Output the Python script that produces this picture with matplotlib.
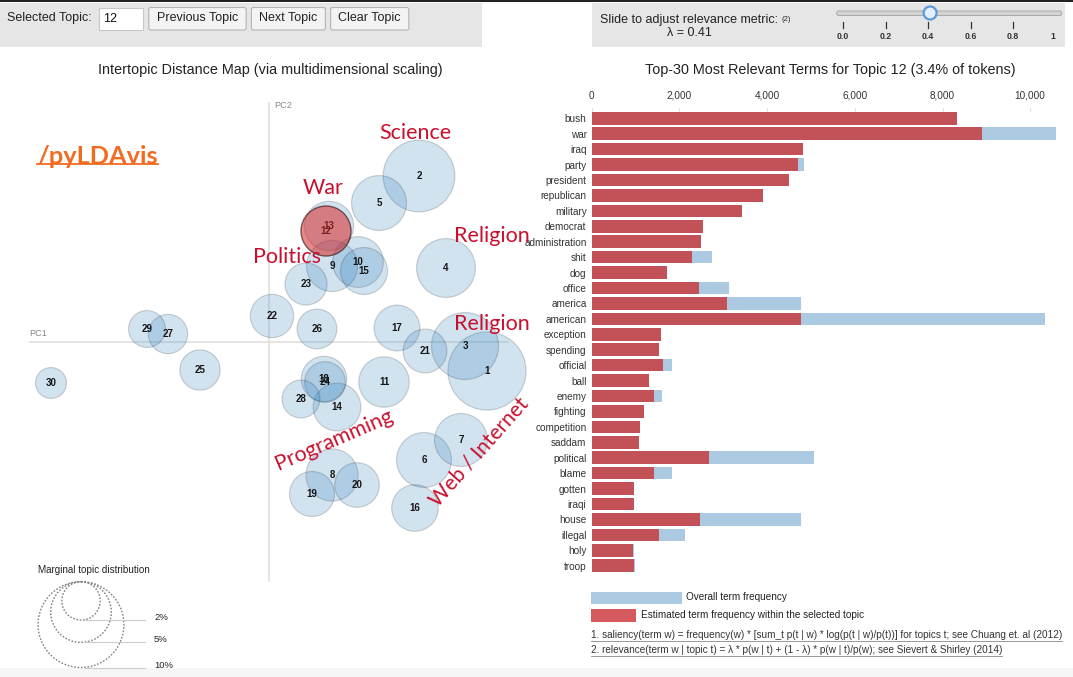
import matplotlib
matplotlib.use('Agg')
import matplotlib.pyplot as plt
from matplotlib.patches import Circle, Rectangle, FancyBboxPatch
import numpy as np

# ---------------- data ----------------
topic_ids = list(range(1, 31))
topic_pct = [8.3, 7.0, 6.1, 4.7, 4.1, 4.1, 3.8, 3.7, 3.55, 3.5,
             3.45, 3.4, 3.3, 3.1, 3.0, 2.95, 2.85, 2.8, 2.75, 2.7,
             2.6, 2.55, 2.4, 2.25, 2.2, 2.15, 2.1, 1.95, 1.85, 1.3]
pc1 = [0.218, 0.150, 0.196, 0.177, 0.110, 0.155, 0.192, 0.063, 0.063, 0.089,
       0.115, 0.057, 0.060, 0.068, 0.095, 0.146, 0.128, 0.055, 0.043, 0.088,
       0.156, 0.003, 0.037, 0.056, -0.069, 0.048, -0.101, 0.032, -0.122, -0.218]
pc2 = [-0.029, 0.166, -0.004, 0.074, 0.139, -0.118, -0.098, -0.133, 0.076, 0.080,
       -0.040, 0.111, 0.116, -0.065, 0.071, -0.166, 0.014, -0.037, -0.152, -0.143,
       -0.009, 0.026, 0.058, -0.040, -0.028, 0.013, 0.008, -0.057, 0.013, -0.041]
selected_topic = 12

terms = ['bush', 'war', 'iraq', 'party', 'president', 'republican', 'military',
         'democrat', 'administration', 'shit', 'dog', 'office', 'america',
         'american', 'exception', 'spending', 'official', 'ball', 'enemy',
         'fighting', 'competition', 'saddam', 'political', 'blame', 'gotten',
         'iraqi', 'house', 'illegal', 'holy', 'troop']
topic_freq = [8330, 8910, 4830, 4710, 4510, 3910, 3430, 2540, 2500, 2290,
              1720, 2440, 3080, 4780, 1570, 1530, 1630, 1300, 1430, 1190,
              1110, 1070, 2670, 1430, 960, 960, 2470, 1530, 935, 975]
overall_freq = [8330, 10590, 4830, 4840, 4510, 3910, 3430, 2540, 2500, 2750,
                1720, 3120, 4780, 10330, 1570, 1530, 1840, 1300, 1600, 1190,
                1110, 1070, 5080, 1830, 960, 960, 4770, 2130, 960, 990]
bar_ticks = [0, 2000, 4000, 6000, 8000, 10000]

lambda_value = 0.41
slider_ticks = [0.0, 0.2, 0.4, 0.6, 0.8]
slider_labels = ['0.0', '0.2', '0.4', '0.6', '0.8', '1']
slider_label_vals = [0.0, 0.2, 0.4, 0.6, 0.8, 1.0]
legend_pcts = [2, 5, 10]

annotations = ['Science', 'War', 'Politics', 'Religion', 'Religion', 'Programming', 'Web / Internet']

# ---------------- layout ----------------
W, H = 1073, 677
plt.rcParams['font.family'] = ['Liberation Sans', 'DejaVu Sans']
fig = plt.figure(figsize=(W / 100, H / 100), dpi=100)
fig.patch.set_facecolor('white')

def rect(x0, y0, x1, y1):
    return [x0 / W, 1 - y1 / H, (x1 - x0) / W, (y1 - y0) / H]

PX = 1000.0          # pixels per PC unit
OX, OY = 269, 342    # pixel position of the PC origin
RS = 13.57           # bubble radius px per sqrt(percent)

# ---- map axes ----
mx0, my0, mx1, my1 = 0, 85, 590, 590
axm = fig.add_axes(rect(mx0, my0, mx1, my1))
axm.set_xlim((mx0 - OX) / PX, (mx1 - OX) / PX)
axm.set_ylim((OY - my1) / PX, (OY - my0) / PX)
axm.axis('off')
axm.patch.set_alpha(0)
axm.plot([-0.24, 0.24], [0, 0], color='#e3e3e3', lw=1.3, zorder=0, solid_capstyle='butt')
axm.plot([0, 0], [0.24, -0.24], color='#e3e3e3', lw=1.3, zorder=0, solid_capstyle='butt')
axm.text(-0.24, 0.0045, 'PC1', fontsize=6.6, color='#888888', ha='left', va='bottom')
axm.text(0.005, 0.237, 'PC2', fontsize=6.6, color='#888888', ha='left', va='center')

for t, p, x, y in zip(topic_ids, topic_pct, pc1, pc2):
    r = RS * np.sqrt(p) / PX
    if t == selected_topic:
        axm.add_patch(Circle((x, y), r, fc=(214/255, 39/255, 40/255, 0.55),
                             ec=(0.15, 0.05, 0.05, 0.6), lw=1.0, zorder=5))
    else:
        axm.add_patch(Circle((x, y), r, fc=(31/255, 119/255, 180/255, 0.2),
                             ec=(0, 0, 0, 0.16), lw=0.9, zorder=2))
    axm.text(x, y, str(t), fontsize=7.0, fontweight='bold', color='#151515',
             ha='center', va='center', zorder=4)

# ---- bar axes ----
bx0, bx1 = 591.7, 591.7 + 10800 * 0.04385
by0, by1 = 110.6, 573.4
axb = fig.add_axes(rect(bx0, by0, bx1, by1))
axb.patch.set_alpha(0)
ypos = np.arange(len(terms))
axb.barh(ypos, overall_freq, height=0.82, color='#abc9e0', zorder=2)
axb.barh(ypos, topic_freq, height=0.82, color='#c25258', zorder=3)
axb.set_xlim(0, 10800)
axb.set_ylim(len(terms) - 0.5, -0.5)
for s in axb.spines.values():
    s.set_visible(False)
axb.xaxis.set_ticks_position('top')
axb.set_xticks(bar_ticks)
axb.set_xticklabels([f'{v:,}' for v in bar_ticks])
axb.tick_params(axis='x', length=2.5, color='#d8d8d8', pad=4.5, labelsize=7.2, labelcolor='#333333')
axb.set_yticks(ypos)
axb.set_yticklabels(terms)
axb.tick_params(axis='y', length=0, pad=3.7, labelsize=7.2, labelcolor='#333333')

# ---- overlay (pixel coords, y down) ----
ov = fig.add_axes([0, 0, 1, 1], zorder=10)
ov.set_xlim(0, W)
ov.set_ylim(H, 0)
ov.axis('off')
ov.patch.set_alpha(0)

ov.add_patch(Rectangle((0, 0), W, 2, fc='#222222', ec='none'))
ov.add_patch(Rectangle((0, 3), 482, 44, fc='#e6e6e6', ec='none'))
ov.add_patch(Rectangle((592, 3), 473, 44, fc='#e6e6e6', ec='none'))
ov.add_patch(Rectangle((0, 668), W, 9, fc='#f6f6f6', ec='none'))

ov.text(7, 18.5, 'Selected Topic:', fontsize=9, color='#222222', ha='left', va='center')
ov.add_patch(Rectangle((99, 7.5), 44, 22.5, fc='white', ec='#c8c8c8', lw=0.8))
ov.text(103, 18.5, str(selected_topic), fontsize=9, color='#111111', ha='left', va='center')
for (x0, x1, lab) in [(148.8, 246.2, 'Previous Topic'), (251.4, 325.4, 'Next Topic'),
                      (330.6, 408.8, 'Clear Topic')]:
    ov.add_patch(FancyBboxPatch((x0, 7.5), x1 - x0, 22.5, boxstyle='round,pad=0,rounding_size=2',
                                fc='#f3f3f3', ec='#b4b4b4', lw=0.8))
    ov.text((x0 + x1) / 2, 18.5, lab, fontsize=9, color='#222222', ha='center', va='center')

ov.text(600, 20.5, 'Slide to adjust relevance metric:', fontsize=9, color='#222222',
        ha='left', va='center')
ov.text(781, 19.5, '(2)', fontsize=5.5, color='#222222', ha='left', va='center')
ov.text(689, 33, f'λ = {lambda_value}', fontsize=9, color='#222222', ha='center', va='center')

def sx(v):
    return 843 + v * 212.5
ov.add_patch(FancyBboxPatch((836.7, 11), 225, 4.5, boxstyle='round,pad=0,rounding_size=2',
                            fc='#d4d4d4', ec='#a8a8a8', lw=0.7))
for v in slider_ticks:
    ov.plot([sx(v), sx(v)], [21.5, 28], color='#333333', lw=0.9)
for v, lab in zip(slider_label_vals, slider_labels):
    ov.text(sx(v) - (3 if lab == '1' else 0), 36.5, lab, fontsize=6.3, fontweight='bold',
            color='#333333', ha='center', va='center')
ov.add_patch(Circle((sx(lambda_value), 13), 6.5, fc='#e3eefa', ec='#5c9ad6', lw=1.6))

ov.text(270.8, 70, 'Intertopic Distance Map (via multidimensional scaling)', fontsize=10.4,
        color='#222222', ha='center', va='center')
ov.text(830.8, 70, 'Top-30 Most Relevant Terms for Topic 12 (3.4% of tokens)', fontsize=10.4,
        color='#222222', ha='center', va='center')

# annotations
RED = '#c8102e'
ann_font = ['Lato', 'DejaVu Sans']
ann_pos = [(415, 133, 0), (323.5, 188, 0), (287, 257, 0), (491.5, 236.5, 0),
           (491.5, 324, 0), (334, 440, 23.3), (479, 452, 48.4)]
ann_size = [15.5, 15.5, 15.5, 15.5, 15.5, 15.5, 15.0]
for lab, (x, y, rot), fs in zip(annotations, ann_pos, ann_size):
    ov.text(x, y, lab, fontsize=fs, color=RED, family=ann_font, ha='center', va='center',
            rotation=rot, rotation_mode='anchor')

logo = ov.text(37, 156, '/pyLDAvis', fontsize=18.3, fontweight='bold', color='#f26b21',
               family=ann_font, ha='left', va='center')

# marginal topic distribution legend
ov.text(38, 570, 'Marginal topic distribution', fontsize=7.1, color='#222222', ha='left', va='center')
top_y, cx = 581.7, 81
for p in legend_pcts:
    r = RS * np.sqrt(p)
    ov.add_patch(Circle((cx, top_y + r), r, fc='none', ec='#808080', lw=1.0, ls=(0, (1.2, 1.2))))
    yb = top_y + 2 * r
    ov.plot([cx + 4, 145], [yb, yb], color='#cccccc', lw=0.8)
    ov.text(154, yb - 2.5, f'{p}%', fontsize=6.8, color='#222222', ha='left', va='center')

# bar legend
ov.add_patch(Rectangle((591, 591.7), 90.7, 12.3, fc='#abc9e0', ec='none'))
ov.text(686, 597.5, 'Overall term frequency', fontsize=7.2, color='#222222', ha='left', va='center')
ov.add_patch(Rectangle((591, 609.3), 45, 12.7, fc='#d45a5e', ec='none'))
ov.text(641, 615, 'Estimated term frequency within the selected topic', fontsize=7.2,
        color='#222222', ha='left', va='center')

f1 = ov.text(591, 635, '1. saliency(term w) = frequency(w) * [sum_t p(t | w) * log(p(t | w)/p(t))] '
             'for topics t; see Chuang et. al (2012)', fontsize=7.17, color='#333333',
             ha='left', va='center')
f2 = ov.text(591, 650, '2. relevance(term w | topic t) = λ * p(w | t) + (1 - λ) * p(w | t)/p(w); '
             'see Sievert & Shirley (2014)', fontsize=7.17, color='#333333', ha='left', va='center')

fig.canvas.draw()
renderer = fig.canvas.get_renderer()
for t, col, off, lw in [(f1, '#888888', 1.0, 0.6), (f2, '#888888', 1.0, 0.6), (logo, '#f26b21', -3.5, 1.3)]:
    bb = t.get_window_extent(renderer)
    yline = H - bb.y0 + off
    ov.plot([bb.x0, bb.x1], [yline, yline], color=col, lw=lw)

fig.savefig('out.png', dpi=100)
